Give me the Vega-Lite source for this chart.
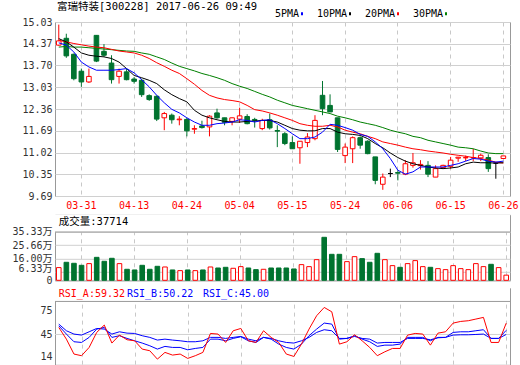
{
"$schema":"https://vega.github.io/schema/vega-lite/v6.json",
"background":"white",
"padding":{"left":11,"top":1,"right":0,"bottom":0},
"title":{"text":"富瑞特装[300228] 2017-06-26 09:49","anchor":"start","frame":"group","font":"DejaVu Sans Mono, Noto Sans CJK SC","fontSize":10.5,"fontWeight":"normal","color":"#000","offset":-3.5,"dx":2},
"datasets":{"k":[
{"d":"03-28","o":14.32,"h":14.95,"l":14.30,"c":14.45,"v":92900,"m5":14.39,"m10":14.52,"m20":14.47,"m30":14.26,"ra":53.9,"rb":56.0,"rc":58.1},
{"d":"03-29","o":14.53,"h":14.67,"l":13.93,"c":13.99,"v":131700,"m5":14.32,"m10":14.42,"m20":14.42,"m30":14.28,"ra":39.1,"rb":45.5,"rc":49.7},
{"d":"03-30","o":14.04,"h":14.06,"l":13.24,"c":13.29,"v":124400,"m5":14.11,"m10":14.26,"m20":14.37,"m30":14.26,"ra":20.2,"rb":35.8,"rc":45.5},
{"d":"03-31","o":13.52,"h":13.60,"l":13.04,"c":13.19,"v":109700,"m5":13.80,"m10":14.08,"m20":14.33,"m30":14.26,"ra":18.1,"rb":34.9,"rc":44.2},
{"d":"04-05","o":13.19,"h":13.60,"l":13.16,"c":13.36,"v":122000,"m5":13.65,"m10":14.01,"m20":14.29,"m30":14.24,"ra":28.6,"rb":41.3,"rc":48.4},
{"d":"04-06","o":14.62,"h":14.63,"l":13.80,"c":13.83,"v":168000,"m5":13.55,"m10":13.98,"m20":14.26,"m30":14.22,"ra":47.6,"rb":51.8,"rc":52.6},
{"d":"04-07","o":14.13,"h":14.35,"l":13.96,"c":14.01,"v":139000,"m5":13.55,"m10":13.96,"m20":14.24,"m30":14.20,"ra":56.9,"rb":53.9,"rc":51.8},
{"d":"04-10","o":13.77,"h":14.01,"l":13.14,"c":13.26,"v":161000,"m5":13.55,"m10":13.91,"m20":14.19,"m30":14.18,"ra":34.1,"rb":41.3,"rc":45.5},
{"d":"04-11","o":13.36,"h":13.60,"l":13.14,"c":13.52,"v":122000,"m5":13.57,"m10":13.80,"m20":14.14,"m30":14.16,"ra":44.2,"rb":43.4,"rc":48.4},
{"d":"04-12","o":13.50,"h":13.60,"l":13.24,"c":13.26,"v":80500,"m5":13.60,"m10":13.60,"m20":14.11,"m30":14.14,"ra":38.3,"rb":40.0,"rc":46.7},
{"d":"04-13","o":13.28,"h":13.34,"l":13.14,"c":13.21,"v":75600,"m5":13.47,"m10":13.39,"m20":14.08,"m30":14.13,"ra":37.0,"rb":37.0,"rc":46.3},
{"d":"04-14","o":13.24,"h":13.29,"l":12.73,"c":12.80,"v":109700,"m5":13.26,"m10":13.32,"m20":14.01,"m30":14.08,"ra":26.5,"rb":34.1,"rc":43.4},
{"d":"04-17","o":12.77,"h":12.81,"l":12.61,"c":12.65,"v":80500,"m5":13.04,"m10":13.24,"m20":13.91,"m30":14.04,"ra":24.4,"rb":30.7,"rc":41.3},
{"d":"04-18","o":12.75,"h":12.78,"l":11.99,"c":12.05,"v":102400,"m5":12.78,"m10":13.14,"m20":13.78,"m30":13.96,"ra":13.8,"rb":26.5,"rc":37.9},
{"d":"04-19","o":12.09,"h":12.27,"l":11.71,"c":12.22,"v":97500,"m5":12.55,"m10":12.95,"m20":13.67,"m30":13.88,"ra":22.3,"rb":29.9,"rc":39.1},
{"d":"04-20","o":12.17,"h":12.22,"l":11.91,"c":12.03,"v":75600,"m5":12.35,"m10":12.80,"m20":13.55,"m30":13.77,"ra":18.9,"rb":28.6,"rc":37.9},
{"d":"04-21","o":12.03,"h":12.14,"l":11.86,"c":12.05,"v":70700,"m5":12.24,"m10":12.68,"m20":13.45,"m30":13.67,"ra":20.2,"rb":28.6,"rc":37.0},
{"d":"04-24","o":12.04,"h":12.09,"l":11.52,"c":11.69,"v":75600,"m5":12.09,"m10":12.58,"m20":13.29,"m30":13.60,"ra":14.7,"rb":25.6,"rc":35.8},
{"d":"04-25","o":11.74,"h":11.86,"l":11.60,"c":11.76,"v":70700,"m5":11.96,"m10":12.32,"m20":13.12,"m30":13.53,"ra":18.1,"rb":27.3,"rc":35.8},
{"d":"04-26","o":11.84,"h":12.00,"l":11.76,"c":11.79,"v":75600,"m5":11.86,"m10":12.17,"m20":12.93,"m30":13.45,"ra":22.3,"rb":28.6,"rc":37.0},
{"d":"04-27","o":11.81,"h":12.17,"l":11.52,"c":12.14,"v":97500,"m5":11.86,"m10":12.09,"m20":12.78,"m30":13.39,"ra":46.3,"rb":39.1,"rc":41.3},
{"d":"04-28","o":12.24,"h":12.37,"l":12.06,"c":12.09,"v":90000,"m5":11.91,"m10":12.03,"m20":12.70,"m30":13.32,"ra":45.5,"rb":39.1,"rc":41.3},
{"d":"05-02","o":12.09,"h":12.09,"l":11.86,"c":11.95,"v":95000,"m5":11.93,"m10":11.98,"m20":12.65,"m30":13.24,"ra":34.9,"rb":37.0,"rc":40.0},
{"d":"05-03","o":11.98,"h":12.10,"l":11.86,"c":12.09,"v":87800,"m5":11.96,"m10":11.96,"m20":12.62,"m30":13.14,"ra":49.7,"rb":40.0,"rc":41.3},
{"d":"05-04","o":12.05,"h":12.40,"l":11.93,"c":12.15,"v":100000,"m5":12.03,"m10":11.96,"m20":12.58,"m30":13.06,"ra":52.6,"rb":42.1,"rc":42.5},
{"d":"05-05","o":12.13,"h":12.20,"l":11.89,"c":11.91,"v":90000,"m5":12.01,"m10":11.98,"m20":12.47,"m30":12.99,"ra":37.0,"rb":37.0,"rc":39.1},
{"d":"05-08","o":12.04,"h":12.09,"l":11.79,"c":12.01,"v":78000,"m5":11.96,"m10":11.99,"m20":12.34,"m30":12.90,"ra":34.9,"rb":34.9,"rc":37.0},
{"d":"05-09","o":11.76,"h":12.06,"l":11.71,"c":12.01,"v":80500,"m5":12.01,"m10":12.01,"m20":12.30,"m30":12.81,"ra":49.7,"rb":41.3,"rc":41.3},
{"d":"05-10","o":12.03,"h":12.22,"l":11.73,"c":11.78,"v":90000,"m5":12.03,"m10":12.01,"m20":12.24,"m30":12.73,"ra":41.3,"rb":39.1,"rc":40.0},
{"d":"05-11","o":11.70,"h":11.86,"l":11.19,"c":11.68,"v":90000,"m5":11.91,"m10":11.96,"m20":12.17,"m30":12.63,"ra":34.9,"rb":32.8,"rc":37.0},
{"d":"05-12","o":11.60,"h":11.65,"l":11.25,"c":11.30,"v":90000,"m5":11.76,"m10":11.86,"m20":12.09,"m30":12.55,"ra":20.2,"rb":28.6,"rc":34.9},
{"d":"05-15","o":11.33,"h":11.52,"l":11.14,"c":11.14,"v":82900,"m5":11.60,"m10":11.76,"m20":12.01,"m30":12.47,"ra":17.2,"rb":26.5,"rc":34.1},
{"d":"05-16","o":11.17,"h":11.37,"l":10.68,"c":11.37,"v":114600,"m5":11.45,"m10":11.71,"m20":11.91,"m30":12.42,"ra":32.8,"rb":32.8,"rc":37.0},
{"d":"05-17","o":11.33,"h":11.62,"l":11.19,"c":11.50,"v":100000,"m5":11.45,"m10":11.69,"m20":11.86,"m30":12.37,"ra":51.8,"rb":43.4,"rc":41.3},
{"d":"05-18","o":11.45,"h":12.17,"l":11.40,"c":12.01,"v":151000,"m5":11.50,"m10":11.69,"m20":11.83,"m30":12.32,"ra":68.7,"rb":51.8,"rc":47.6},
{"d":"05-19","o":12.78,"h":13.22,"l":12.17,"c":12.37,"v":314500,"m5":11.65,"m10":11.76,"m20":11.83,"m30":12.27,"ra":79.2,"rb":59.4,"rc":51.0},
{"d":"05-22","o":12.47,"h":12.81,"l":12.27,"c":12.27,"v":190000,"m5":11.89,"m10":11.76,"m20":11.86,"m30":12.22,"ra":73.7,"rb":58.1,"rc":49.7},
{"d":"05-23","o":12.09,"h":12.09,"l":11.04,"c":11.12,"v":190000,"m5":11.86,"m10":11.65,"m20":11.81,"m30":12.14,"ra":32.8,"rb":39.1,"rc":40.0},
{"d":"05-24","o":10.93,"h":11.30,"l":10.70,"c":11.19,"v":136500,"m5":11.79,"m10":11.60,"m20":11.71,"m30":12.09,"ra":35.8,"rb":40.0,"rc":40.0},
{"d":"05-25","o":11.14,"h":11.52,"l":10.70,"c":11.48,"v":173000,"m5":11.71,"m10":11.58,"m20":11.65,"m30":12.03,"ra":44.6,"rb":43.4,"rc":42.5},
{"d":"05-26","o":11.48,"h":11.52,"l":11.14,"c":11.25,"v":158500,"m5":11.58,"m10":11.55,"m20":11.60,"m30":11.96,"ra":37.0,"rb":39.1,"rc":40.0},
{"d":"05-31","o":11.37,"h":11.40,"l":10.97,"c":10.99,"v":131700,"m5":11.52,"m10":11.45,"m20":11.52,"m30":11.91,"ra":28.6,"rb":35.8,"rc":39.1},
{"d":"06-01","o":10.89,"h":10.89,"l":10.05,"c":10.17,"v":197500,"m5":11.35,"m10":11.30,"m20":11.45,"m30":11.86,"ra":18.1,"rb":29.9,"rc":34.1},
{"d":"06-02","o":10.05,"h":10.38,"l":9.88,"c":10.27,"v":151000,"m5":11.14,"m10":11.17,"m20":11.35,"m30":11.79,"ra":23.1,"rb":31.5,"rc":34.9},
{"d":"06-05","o":10.38,"h":10.53,"l":10.27,"c":10.38,"v":107300,"m5":10.84,"m10":11.01,"m20":11.30,"m30":11.71,"ra":27.3,"rb":31.5,"rc":34.9},
{"d":"06-06","o":10.41,"h":10.48,"l":10.17,"c":10.39,"v":95000,"m5":10.48,"m10":10.87,"m20":11.25,"m30":11.65,"ra":27.3,"rb":32.8,"rc":34.9},
{"d":"06-07","o":10.36,"h":10.79,"l":10.33,"c":10.68,"v":122000,"m5":10.36,"m10":10.76,"m20":11.19,"m30":11.60,"ra":44.2,"rb":41.3,"rc":40.0},
{"d":"06-08","o":10.63,"h":11.01,"l":10.56,"c":10.71,"v":144000,"m5":10.43,"m10":10.68,"m20":11.14,"m30":11.52,"ra":46.3,"rb":41.3,"rc":40.0},
{"d":"06-09","o":10.62,"h":10.79,"l":10.50,"c":10.66,"v":100000,"m5":10.58,"m10":10.63,"m20":11.11,"m30":11.48,"ra":45.5,"rb":41.3,"rc":40.0},
{"d":"06-12","o":10.63,"h":10.76,"l":10.27,"c":10.36,"v":95000,"m5":10.58,"m10":10.58,"m20":11.07,"m30":11.40,"ra":31.5,"rb":37.0,"rc":38.3},
{"d":"06-13","o":10.27,"h":10.63,"l":10.27,"c":10.53,"v":85300,"m5":10.58,"m10":10.55,"m20":11.04,"m30":11.35,"ra":46.7,"rb":41.3,"rc":40.8},
{"d":"06-14","o":10.56,"h":10.65,"l":10.53,"c":10.63,"v":78000,"m5":10.58,"m10":10.53,"m20":11.01,"m30":11.30,"ra":48.4,"rb":41.3,"rc":41.3},
{"d":"06-15","o":10.60,"h":10.89,"l":10.53,"c":10.79,"v":107300,"m5":10.63,"m10":10.55,"m20":10.97,"m30":11.25,"ra":59.4,"rb":47.6,"rc":44.2},
{"d":"06-16","o":10.85,"h":10.89,"l":10.74,"c":10.88,"v":85300,"m5":10.68,"m10":10.58,"m20":10.94,"m30":11.19,"ra":61.5,"rb":48.4,"rc":44.6},
{"d":"06-19","o":10.86,"h":10.93,"l":10.76,"c":10.87,"v":78000,"m5":10.76,"m10":10.68,"m20":10.91,"m30":11.17,"ra":62.4,"rb":48.4,"rc":44.6},
{"d":"06-20","o":10.86,"h":11.14,"l":10.76,"c":10.87,"v":122000,"m5":10.84,"m10":10.73,"m20":10.87,"m30":11.14,"ra":64.5,"rb":49.7,"rc":45.0},
{"d":"06-21","o":10.86,"h":10.99,"l":10.76,"c":10.94,"v":100000,"m5":10.82,"m10":10.71,"m20":10.84,"m30":11.07,"ra":66.6,"rb":51.0,"rc":45.5},
{"d":"06-22","o":10.87,"h":10.97,"l":10.43,"c":10.53,"v":117000,"m5":10.76,"m10":10.71,"m20":10.79,"m30":11.01,"ra":34.9,"rb":40.0,"rc":40.0},
{"d":"06-23","o":10.70,"h":10.73,"l":10.22,"c":10.70,"v":92900,"m5":10.73,"m10":10.70,"m20":10.73,"m30":10.99,"ra":34.9,"rb":40.0,"rc":40.0},
{"d":"06-26","o":10.84,"h":10.92,"l":10.83,"c":10.92,"v":37714,"m5":10.76,"m10":10.71,"m20":10.70,"m30":10.99,"ra":59.32,"rb":50.22,"rc":45.00}
]},
"vconcat":[
{
"width":455,"height":174,
"data":{"name":"k"},
"encoding":{"x":{"field":"d","type":"ordinal","title":null,
 "scale":{"domain":["03-28","03-29","03-30","03-31","04-05","04-06","04-07","04-10","04-11","04-12","04-13","04-14","04-17","04-18","04-19","04-20","04-21","04-24","04-25","04-26","04-27","04-28","05-02","05-03","05-04","05-05","05-08","05-09","05-10","05-11","05-12","05-15","05-16","05-17","05-18","05-19","05-22","05-23","05-24","05-25","05-26","05-31","06-01","06-02","06-05","06-06","06-07","06-08","06-09","06-12","06-13","06-14","06-15","06-16","06-19","06-20","06-21","06-22","06-23","06-26"],"paddingInner":0,"paddingOuter":0.19,"align":0},
 "axis":{"values":["03-31","04-13","04-24","05-04","05-15","05-24","06-06","06-15","06-26"],"labelAngle":0,"labelColor":"#ff0000","labelFont":"DejaVu Sans Mono","labelFontSize":10,"labelPadding":4,"ticks":false,"domain":false,"grid":true,"gridDash":[4,4],"gridColor":"#c8c8c8","bandPosition":0.5}}},
"layer":[
 {"mark":{"type":"rule","strokeWidth":1},
  "encoding":{
   "y":{"field":"l","type":"quantitative","title":null,"scale":{"domain":[9.69,15.03],"nice":false,"zero":false},
    "axis":{"values":[9.69,10.35,11.02,11.69,12.36,13.03,13.70,14.37,15.03],"tickCount":100,"format":".2f","grid":true,"gridColor":"#d0d0d0","ticks":false,"domain":false,"labelPadding":3,"labelFont":"DejaVu Sans Mono","labelFontSize":10,"labelColor":"#333","labelFlush":false,"labelOverlap":false,"labelBound":false}},
   "y2":{"field":"h"},
   "stroke":{"condition":[{"test":"datum.c > datum.o","value":"#ff0000"},{"test":"datum.c < datum.o","value":"#00732f"}],"value":"#000000"}}},
 {"mark":{"type":"bar","width":4.6,"strokeWidth":1},
  "encoding":{
   "y":{"field":"o","type":"quantitative","title":null},
   "y2":{"field":"c"},
   "stroke":{"condition":[{"test":"datum.c > datum.o","value":"#ff0000"},{"test":"datum.c < datum.o","value":"#00732f"}],"value":"#000000"},
   "fill":{"condition":[{"test":"datum.c > datum.o","value":"#ffffff"},{"test":"datum.c < datum.o","value":"#00732f"}],"value":"#000000"}}},
 {"mark":{"type":"line","strokeWidth":1},
  "encoding":{"y":{"field":"m30","type":"quantitative","title":null},
   "color":{"datum":"30PMA","type":"nominal","scale":{"domain":["5PMA","10PMA","20PMA","30PMA"],"range":["#0000ff","#000000","#ff0000","#008000"]},
    "legend":{"orient":"none","legendX":242,"legendY":-13.2,"direction":"horizontal","title":null,"labelFont":"DejaVu Sans Mono","labelFontSize":10,"labelColor":"#000","symbolType":"M-1,0H1","symbolSize":4,"symbolStrokeWidth":3,"labelAlign":"right","labelOffset":-8,"columnPadding":7,"padding":0}}}},
 {"mark":{"type":"line","strokeWidth":1},
  "encoding":{"y":{"field":"m20","type":"quantitative","title":null},"color":{"datum":"20PMA","type":"nominal"}}},
 {"mark":{"type":"line","strokeWidth":1},
  "encoding":{"y":{"field":"m10","type":"quantitative","title":null},"color":{"datum":"10PMA","type":"nominal"}}},
 {"mark":{"type":"line","strokeWidth":1},
  "encoding":{"y":{"field":"m5","type":"quantitative","title":null},"color":{"datum":"5PMA","type":"nominal"}}}
]
},
{
"spacing":7.3,"bounds":"flush",
"vconcat":[
 {"width":455,"height":65.5,
  "layer":[
   {"data":{"name":"k"},"mark":{"type":"bar","width":4.6,"strokeWidth":1},
    "encoding":{
     "x":{"field":"d","type":"ordinal","title":null,"axis":{"values":["03-31","04-13","04-24","05-04","05-15","05-24","06-06","06-15","06-26"],"labels":false,"ticks":false,"domain":false,"grid":true,"gridDash":[4,4],"gridColor":"#c8c8c8","bandPosition":0.5}},
     "y":{"field":"v","type":"quantitative","title":null,"scale":{"domain":[0,479100],"nice":false,"zero":true},
      "axis":{"values":[0,63300,160000,256600,353300],"tickCount":100,"labelExpr":"datum.value == 0 ? '0' : format(datum.value/10000, '.2f') + '万'","labelOffset":{"condition":{"test":"datum.value == 63300","value":-3},"value":0},"grid":true,"gridColor":"#d0d0d0","ticks":false,"domain":false,"labelPadding":3,"labelFont":"DejaVu Sans Mono, Noto Sans CJK SC","labelFontSize":10,"labelColor":"#333","labelFlush":false,"labelOverlap":false,"labelBound":false}},
     "stroke":{"condition":{"test":"datum.c < datum.o","value":"#00732f"},"value":"#ff0000"},
     "fill":{"condition":{"test":"datum.c < datum.o","value":"#00732f"},"value":"#ffffff"}}},
   {"data":{"values":[{}]},"mark":{"type":"rect","color":"#ffffff"},"encoding":{"y":{"datum":353300},"y2":{"datum":479100}}},
   {"data":{"values":[{}]},"mark":{"type":"rule","color":"#999999"},"encoding":{"y":{"datum":353300}}},
   {"data":{"values":[{"d":"03-28","t":"成交量:37714"}]},
    "mark":{"type":"text","align":"left","baseline":"middle","font":"DejaVu Sans Mono, Noto Sans CJK SC","fontSize":10.5,"color":"#000"},
    "encoding":{"x":{"field":"d","type":"ordinal","title":null},"y":{"datum":424300},"text":{"field":"t"}}}
  ]},
 {"width":455,"height":76.7,
  "layer":[
   {"data":{"values":[{}]},"mark":{"type":"rule","color":"#d0d0d0"},"encoding":{"y":{"datum":45}}},
   {"data":{"name":"k"},"mark":{"type":"line","color":"#0000ff","strokeWidth":1},
    "encoding":{
     "x":{"field":"d","type":"ordinal","title":null,"axis":{"values":["03-31","04-13","04-24","05-04","05-15","05-24","06-06","06-15","06-26"],"labels":false,"ticks":false,"domain":false,"grid":true,"gridDash":[4,4],"gridColor":"#c8c8c8","bandPosition":0.5}},
     "y":{"field":"rc","type":"quantitative","title":null,"scale":{"domain":[6.6,103.7],"nice":false,"zero":false},
      "axis":{"values":[14,45,75],"tickCount":100,"labelOffset":{"condition":{"test":"datum.value == 14","value":-2.5},"value":0},"grid":false,"ticks":false,"domain":false,"labelPadding":3,"labelFont":"DejaVu Sans Mono","labelFontSize":10,"labelColor":"#333","labelFlush":false,"labelOverlap":false,"labelBound":false}}}},
   {"data":{"name":"k"},"mark":{"type":"line","color":"#0000ff","strokeWidth":1},
    "encoding":{"x":{"field":"d","type":"ordinal","title":null},"y":{"field":"rb","type":"quantitative","title":null}}},
   {"data":{"name":"k"},"mark":{"type":"line","color":"#ff0000","strokeWidth":1},
    "encoding":{"x":{"field":"d","type":"ordinal","title":null},"y":{"field":"ra","type":"quantitative","title":null}}},
   {"data":{"values":[{}]},"mark":{"type":"rect","color":"#ffffff"},"encoding":{"y":{"datum":86.8},"y2":{"datum":103.7}}},
   {"data":{"values":[{}]},"mark":{"type":"rule","color":"#999999"},"encoding":{"y":{"datum":86.8}}},
   {"data":{"values":[{"d":"03-28","t":"RSI_A:59.32","s":"A"},{"d":"04-12","t":"RSI_B:50.22","s":"B"},{"d":"04-26","t":"RSI_C:45.00","s":"C"}]},
    "mark":{"type":"text","align":"left","baseline":"middle","font":"DejaVu Sans Mono","fontSize":10},
    "encoding":{"x":{"field":"d","type":"ordinal","title":null},"y":{"datum":95.9},"text":{"field":"t"},
     "color":{"condition":{"test":"datum.s == 'A'","value":"#ff0000"},"value":"#0000ff"}}}
  ]}
]
}
],
"spacing":18.8,"bounds":"flush",
"config":{"view":{"stroke":"#999999","strokeWidth":1},"axis":{"labelOverlap":false,"labelBound":false}}
}
